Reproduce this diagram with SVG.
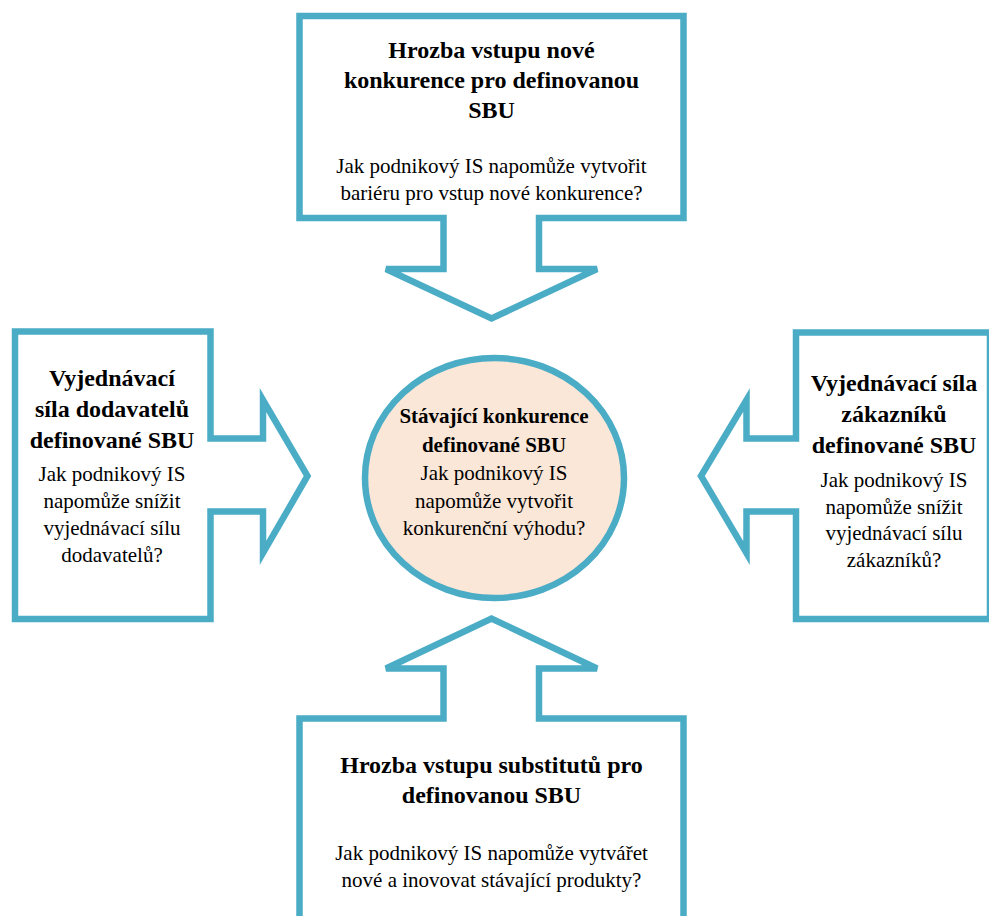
<svg xmlns="http://www.w3.org/2000/svg" width="989" height="916" viewBox="0 0 989 916">
  <style>
    .shape { fill: #ffffff; stroke: #4bacc6; stroke-width: 6.5; stroke-linejoin: miter; }
    .core { fill: #fbe7d8; stroke: #4bacc6; stroke-width: 6.5; }
    text { fill: #000000; text-anchor: middle; }
    .title { font-size: 24px; font-weight: bold; }
    .title-sm { font-size: 21px; font-weight: bold; }
    .body { font-size: 21px; }
  </style>
  <rect width="989" height="916" fill="#ffffff"/>

  <!-- Callout arrows pointing at the central force -->
  <g id="connectors"></g>

  <g font-family="Liberation Serif, Tinos, Times New Roman, DejaVu Serif, serif">
  <!-- Threat of new entrants (top, pointing down) -->
  <g id="node-new-entrants">
    <path class="shape" d="M299.5,16 H683.5 V218 H539 V269 H597 L491.5,318.5 L386,269 H443.5 V218 H299.5 Z"/>
    <text class="title" x="491.5" y="57.5">Hrozba vstupu nové</text>
    <text class="title" x="491.5" y="87.5">konkurence pro definovanou</text>
    <text class="title" x="491.5" y="117.5">SBU</text>
    <text class="body" x="491.5" y="173">Jak podnikový IS napomůže vytvořit</text>
    <text class="body" x="491.5" y="200">bariéru pro vstup nové konkurence?</text>
  </g>

  <!-- Supplier bargaining power (left, pointing right) -->
  <g id="node-suppliers">
    <path class="shape" d="M15,331.5 H210.5 V438.5 H263 V400 L307.5,476 L263,553 V511.5 H210.5 V619 H15 Z"/>
    <text class="title" x="112" y="386">Vyjednávací</text>
    <text class="title" x="112" y="417">síla dodavatelů</text>
    <text class="title" x="112" y="448">definované SBU</text>
    <text class="body" x="112" y="481">Jak podnikový IS</text>
    <text class="body" x="112" y="508">napomůže snížit</text>
    <text class="body" x="112" y="535">vyjednávací sílu</text>
    <text class="body" x="112" y="562">dodavatelů?</text>
  </g>

  <!-- Customer bargaining power (right, pointing left) -->
  <g id="node-customers">
    <path class="shape" d="M796,332.5 H990 V619 H796 V511.5 H746.5 V553 L701,476 L746.5,400 V438.5 H796 Z"/>
    <text class="title" x="894" y="391">Vyjednávací síla</text>
    <text class="title" x="894" y="422">zákazníků</text>
    <text class="title" x="894" y="453">definované SBU</text>
    <text class="body" x="894" y="487">Jak podnikový IS</text>
    <text class="body" x="894" y="514">napomůže snížit</text>
    <text class="body" x="894" y="540">vyjednávací sílu</text>
    <text class="body" x="894" y="567">zákazníků?</text>
  </g>

  <!-- Threat of substitutes (bottom, pointing up) -->
  <g id="node-substitutes">
    <path class="shape" d="M299.5,718.5 H443.5 V668.5 H386 L491.5,618.5 L597,668.5 H539 V718.5 H683.5 V930 H299.5 Z"/>
    <text class="title" x="491.5" y="773">Hrozba vstupu substitutů pro</text>
    <text class="title" x="491.5" y="803">definovanou SBU</text>
    <text class="body" x="491.5" y="860">Jak podnikový IS napomůže vytvářet</text>
    <text class="body" x="491.5" y="887">nové a inovovat stávající produkty?</text>
  </g>

  <!-- Existing rivalry (centre) -->
  <g id="node-rivalry">
    <ellipse class="core" cx="494.5" cy="478" rx="129.5" ry="120"/>
    <text class="title-sm" x="494" y="423">Stávající konkurence</text>
    <text class="title-sm" x="494" y="451.5">definované SBU</text>
    <text class="body" x="494" y="480">Jak podnikový IS</text>
    <text class="body" x="494" y="508">napomůže vytvořit</text>
    <text class="body" x="494" y="535">konkurenční výhodu?</text>
  </g>
  </g>
</svg>
